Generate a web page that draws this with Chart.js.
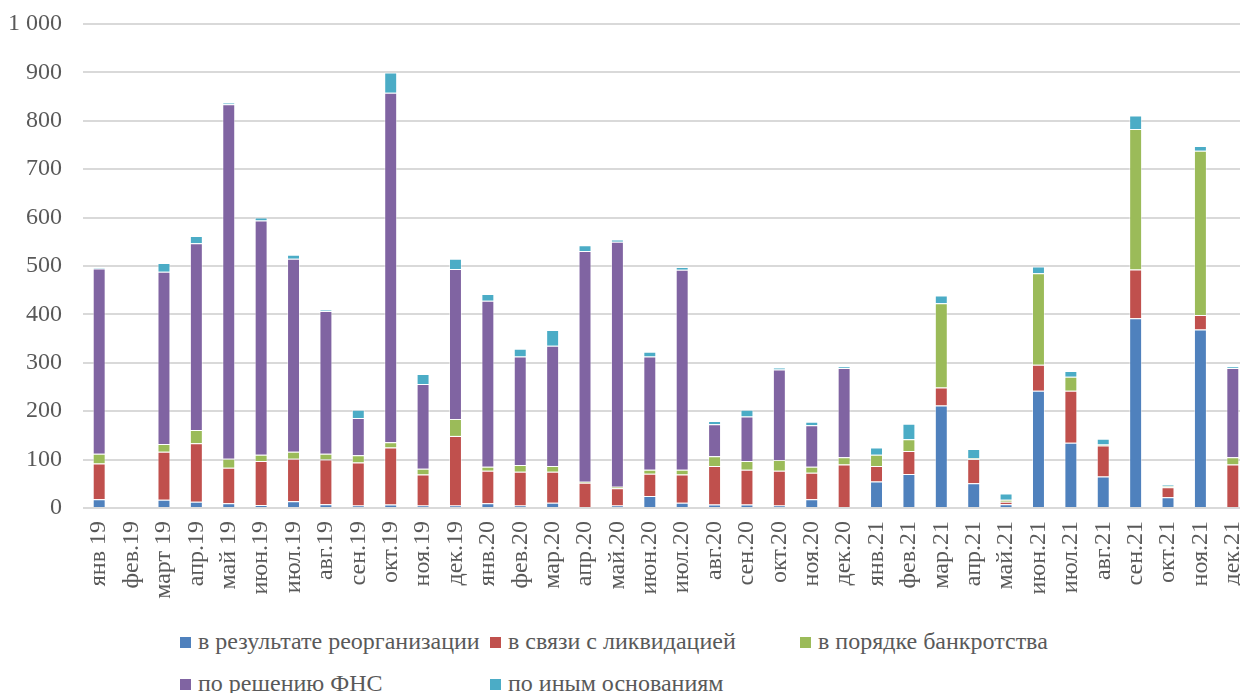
<!DOCTYPE html>
<html lang="ru">
<head>
<meta charset="utf-8">
<title>Прекращение деятельности по месяцам</title>
<script src="https://cdn.jsdelivr.net/npm/chart.js@4/dist/chart.umd.min.js"></script>
<style>
  html, body { margin: 0; padding: 0; background: #fff; overflow: hidden; }
  body { width: 1240px; height: 693px; position: relative; }
  #wrap { position: absolute; left: 0; top: 0; width: 1252px; height: 618px; }
  .legend { position: absolute; left: 180px; top: 622px; font: 24px "Liberation Serif", "Times New Roman", serif; color: #595959; }
  .legend .row { height: 42px; position: relative; }
  .legend .item { position: absolute; top: 0; white-space: nowrap; line-height: 38px; }
  .legend .box { display: inline-block; width: 11px; height: 11px; margin-right: 7px; vertical-align: 1px; }
</style>
</head>
<body>
<div id="wrap"><canvas id="barChart" width="1252" height="618"></canvas></div>
<div class="legend" id="legend"></div>
<script>
var months = ['янв 19','фев.19','март 19','апр.19','май 19','июн.19','июл.19','авг.19','сен.19','окт.19','ноя.19','дек.19',
  'янв.20','фев.20','мар.20','апр.20','май.20','июн.20','июл.20','авг.20','сен.20','окт.20','ноя.20','дек.20',
  'янв.21','фев.21','мар.21','апр.21','май.21','июн.21','июл.21','авг.21','сен.21','окт.21','ноя.21','дек.21'];

var reorganization = [18,0,17,13,10,6,14,8,5,7,5,5, 10,5,11,2,5,25,11,7,7,5,18,2, 55,70,212,51,8,242,135,65,392,22,369,2];
var liquidation    = [74,0,99,121,73,91,88,92,89,118,64,144, 67,70,64,50,36,46,58,80,72,72,55,88, 32,48,37,50,5,54,107,64,101,21,30,88];
var bankruptcy     = [20,0,16,27,19,13,14,12,15,11,12,35, 8,14,12,2,3,8,10,20,18,22,12,15, 23,24,174,2,4,189,29,2,290,2,339,15];
var fnsDecision    = [383,0,356,386,732,484,399,295,77,722,175,310, 343,224,248,477,506,234,413,66,92,187,86,184, 0,0,0,0,0,0,0,0,0,0,0,184];
var otherReasons   = [2,0,18,15,4,6,8,2,17,42,21,21, 14,16,33,12,5,10,6,7,14,4,7,4, 15,32,16,19,13,14,12,12,28,3,10,4];

var seriesNames  = ['в результате реорганизации', 'в связи с ликвидацией', 'в порядке банкротства', 'по решению ФНС', 'по иным основаниям'];
var seriesColors = ['#4F81BD', '#C0504D', '#9BBB59', '#8064A2', '#4BACC6'];
var seriesValues = [reorganization, liquidation, bankruptcy, fnsDecision, otherReasons];

var font = '"Liberation Serif", "Times New Roman", serif';

var datasets = seriesValues.map(function (values, i) {
  return {
    label: seriesNames[i],
    data: values,
    backgroundColor: seriesColors[i],
    borderColor: 'rgba(255,255,255,0.45)',
    borderWidth: 1,
    barPercentage: 0.4,
    categoryPercentage: 1
  };
});

var ctx = document.getElementById('barChart');
var barChart = new Chart(ctx, {
  type: 'bar',
  data: { labels: months, datasets: datasets },
  options: {
    responsive: false,
    animation: false,
    devicePixelRatio: 1,
    layout: { padding: { left: 0, top: 24, right: 3, bottom: 0 } },
    plugins: { legend: { display: false }, tooltip: { enabled: false } },
    scales: {
      x: {
        stacked: true,
        grid: { display: false, drawTicks: false },
        border: { display: false },
        ticks: {
          color: '#595959',
          font: { family: font, size: 24 },
          minRotation: 90,
          maxRotation: 90,
          autoSkip: false,
          padding: 13
        },
        // fixed axis box so the plot bottom sits where it should
        afterFit: function (scale) { scale.height = 110; scale.paddingLeft = 0; scale.paddingRight = 0; }
      },
      y: {
        stacked: true,
        min: 0,
        max: 1000,
        grid: { color: '#d9d9d9', lineWidth: 2, drawTicks: false },
        border: { display: false },
        ticks: {
          stepSize: 100,
          color: '#595959',
          font: { family: font, size: 24 },
          padding: 21,
          callback: function (v) { return String(v).replace(/\B(?=(\d{3})+(?!\d))/g, ' '); }
        },
        afterFit: function (scale) { scale.width = 83; scale.paddingTop = 0; scale.paddingBottom = 0; }
      }
    }
  }
});

// legend laid out on a column grid, two rows
var legendEl = document.getElementById('legend');
var rows = [[0, 1, 2], [3, 4]];
rows.forEach(function (row) {
  var r = document.createElement('div');
  r.className = 'row';
  row.forEach(function (idx, col) {
    var item = document.createElement('div');
    item.className = 'item';
    item.style.left = (col * 310) + 'px';
    item.innerHTML = '<span class="box" style="background:' + seriesColors[idx] + '"></span>' + seriesNames[idx];
    r.appendChild(item);
  });
  legendEl.appendChild(r);
});
</script>
</body>
</html>
